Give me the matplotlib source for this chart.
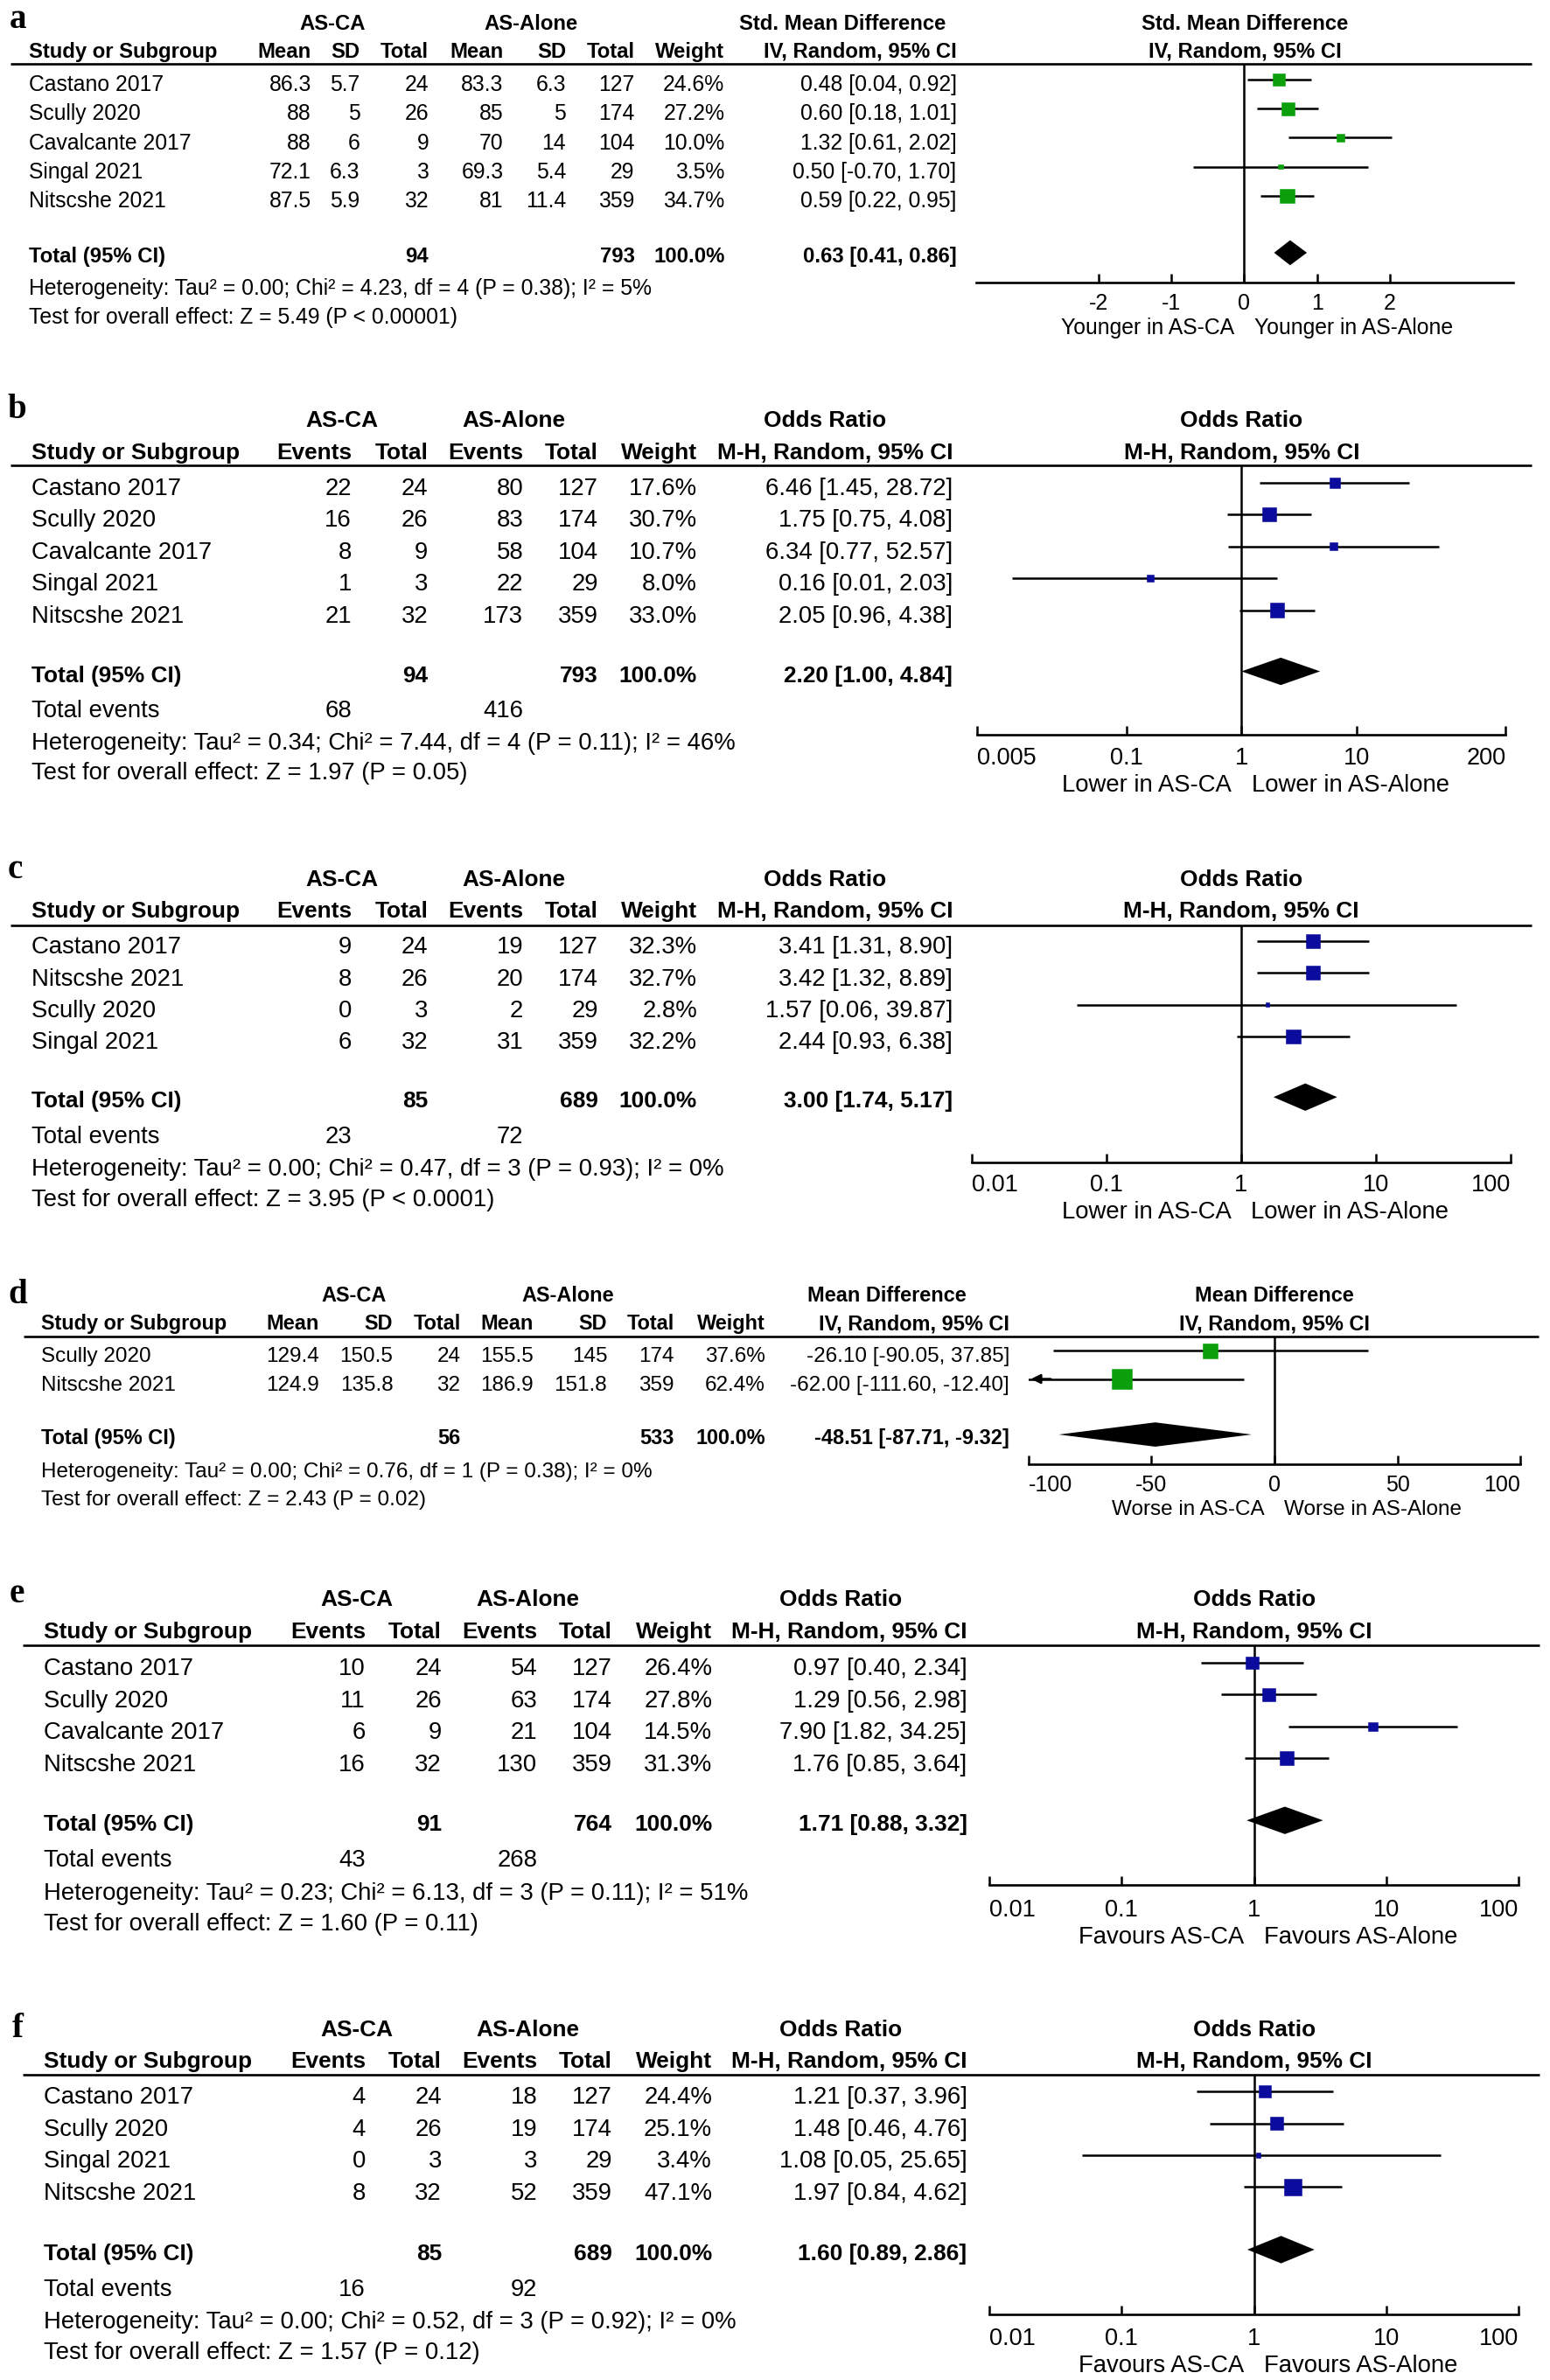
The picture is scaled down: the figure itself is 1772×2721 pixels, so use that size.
import matplotlib
matplotlib.use("Agg")
import matplotlib.pyplot as plt
from matplotlib.ticker import FixedLocator, NullFormatter

plt.rcParams['font.family'] = ['Liberation Sans', 'DejaVu Sans']

# ------------------------------------------------------------------ data
# (a) Std. Mean Difference
a_studies = ["Castano 2017", "Scully 2020", "Cavalcante 2017", "Singal 2021", "Nitscshe 2021"]
a_ca_mean = [86.3, 88, 88, 72.1, 87.5]
a_ca_sd = [5.7, 5, 6, 6.3, 5.9]
a_ca_n = [24, 26, 9, 3, 32]
a_al_mean = [83.3, 85, 70, 69.3, 81]
a_al_sd = [6.3, 5, 14, 5.4, 11.4]
a_al_n = [127, 174, 104, 29, 359]
a_weight = [24.6, 27.2, 10.0, 3.5, 34.7]
a_est = [0.48, 0.60, 1.32, 0.50, 0.59]
a_lo = [0.04, 0.18, 0.61, -0.70, 0.22]
a_hi = [0.92, 1.01, 2.02, 1.70, 0.95]
a_total = [0.63, 0.41, 0.86]
a_total_n = [94, 793]
a_het = "Heterogeneity: Tau² = 0.00; Chi² = 4.23, df = 4 (P = 0.38); I² = 5%"
a_test = "Test for overall effect: Z = 5.49 (P < 0.00001)"
a_ticks = [-2, -1, 0, 1, 2]
a_ticklabels = ["-2", "-1", "0", "1", "2"]
a_xlim = [-3.67, 3.69]
a_favours = ["Younger in AS-CA", "Younger in AS-Alone"]

# (b) Odds Ratio
b_studies = ["Castano 2017", "Scully 2020", "Cavalcante 2017", "Singal 2021", "Nitscshe 2021"]
b_ca_ev = [22, 16, 8, 1, 21]
b_ca_n = [24, 26, 9, 3, 32]
b_al_ev = [80, 83, 58, 22, 173]
b_al_n = [127, 174, 104, 29, 359]
b_weight = [17.6, 30.7, 10.7, 8.0, 33.0]
b_est = [6.46, 1.75, 6.34, 0.16, 2.05]
b_lo = [1.45, 0.75, 0.77, 0.01, 0.96]
b_hi = [28.72, 4.08, 52.57, 2.03, 4.38]
b_total = [2.20, 1.00, 4.84]
b_total_n = [94, 793]
b_total_ev = [68, 416]
b_het = "Heterogeneity: Tau² = 0.34; Chi² = 7.44, df = 4 (P = 0.11); I² = 46%"
b_test = "Test for overall effect: Z = 1.97 (P = 0.05)"
b_ticks = [0.005, 0.1, 1, 10, 200]
b_ticklabels = ["0.005", "0.1", "1", "10", "200"]
b_xlim = [0.005, 200]
b_favours = ["Lower in AS-CA", "Lower in AS-Alone"]

# (c) Odds Ratio
c_studies = ["Castano 2017", "Nitscshe 2021", "Scully 2020", "Singal 2021"]
c_ca_ev = [9, 8, 0, 6]
c_ca_n = [24, 26, 3, 32]
c_al_ev = [19, 20, 2, 31]
c_al_n = [127, 174, 29, 359]
c_weight = [32.3, 32.7, 2.8, 32.2]
c_est = [3.41, 3.42, 1.57, 2.44]
c_lo = [1.31, 1.32, 0.06, 0.93]
c_hi = [8.90, 8.89, 39.87, 6.38]
c_total = [3.00, 1.74, 5.17]
c_total_n = [85, 689]
c_total_ev = [23, 72]
c_het = "Heterogeneity: Tau² = 0.00; Chi² = 0.47, df = 3 (P = 0.93); I² = 0%"
c_test = "Test for overall effect: Z = 3.95 (P < 0.0001)"
c_ticks = [0.01, 0.1, 1, 10, 100]
c_ticklabels = ["0.01", "0.1", "1", "10", "100"]
c_xlim = [0.01, 100]
c_favours = ["Lower in AS-CA", "Lower in AS-Alone"]

# (d) Mean Difference
d_studies = ["Scully 2020", "Nitscshe 2021"]
d_ca_mean = [129.4, 124.9]
d_ca_sd = [150.5, 135.8]
d_ca_n = [24, 32]
d_al_mean = [155.5, 186.9]
d_al_sd = [145, 151.8]
d_al_n = [174, 359]
d_weight = [37.6, 62.4]
d_est = [-26.10, -62.00]
d_lo = [-90.05, -111.60]
d_hi = [37.85, -12.40]
d_total = [-48.51, -87.71, -9.32]
d_total_n = [56, 533]
d_het = "Heterogeneity: Tau² = 0.00; Chi² = 0.76, df = 1 (P = 0.38); I² = 0%"
d_test = "Test for overall effect: Z = 2.43 (P = 0.02)"
d_ticks = [-100, -50, 0, 50, 100]
d_ticklabels = ["-100", "-50", "0", "50", "100"]
d_xlim = [-100, 100]
d_favours = ["Worse in AS-CA", "Worse in AS-Alone"]

# (e) Odds Ratio
e_studies = ["Castano 2017", "Scully 2020", "Cavalcante 2017", "Nitscshe 2021"]
e_ca_ev = [10, 11, 6, 16]
e_ca_n = [24, 26, 9, 32]
e_al_ev = [54, 63, 21, 130]
e_al_n = [127, 174, 104, 359]
e_weight = [26.4, 27.8, 14.5, 31.3]
e_est = [0.97, 1.29, 7.90, 1.76]
e_lo = [0.40, 0.56, 1.82, 0.85]
e_hi = [2.34, 2.98, 34.25, 3.64]
e_total = [1.71, 0.88, 3.32]
e_total_n = [91, 764]
e_total_ev = [43, 268]
e_het = "Heterogeneity: Tau² = 0.23; Chi² = 6.13, df = 3 (P = 0.11); I² = 51%"
e_test = "Test for overall effect: Z = 1.60 (P = 0.11)"
e_ticks = [0.01, 0.1, 1, 10, 100]
e_ticklabels = ["0.01", "0.1", "1", "10", "100"]
e_xlim = [0.01, 100]
e_favours = ["Favours AS-CA", "Favours AS-Alone"]

# (f) Odds Ratio
f_studies = ["Castano 2017", "Scully 2020", "Singal 2021", "Nitscshe 2021"]
f_ca_ev = [4, 4, 0, 8]
f_ca_n = [24, 26, 3, 32]
f_al_ev = [18, 19, 3, 52]
f_al_n = [127, 174, 29, 359]
f_weight = [24.4, 25.1, 3.4, 47.1]
f_est = [1.21, 1.48, 1.08, 1.97]
f_lo = [0.37, 0.46, 0.05, 0.84]
f_hi = [3.96, 4.76, 25.65, 4.62]
f_total = [1.60, 0.89, 2.86]
f_total_n = [85, 689]
f_total_ev = [16, 92]
f_het = "Heterogeneity: Tau² = 0.00; Chi² = 0.52, df = 3 (P = 0.92); I² = 0%"
f_test = "Test for overall effect: Z = 1.57 (P = 0.12)"
f_ticks = [0.01, 0.1, 1, 10, 100]
f_ticklabels = ["0.01", "0.1", "1", "10", "100"]
f_xlim = [0.01, 100]
f_favours = ["Favours AS-CA", "Favours AS-Alone"]

cont_headers = ["Mean", "SD", "Total", "Mean", "SD", "Total", "Weight"]
dich_headers = ["Events", "Total", "Events", "Total", "Weight"]

# ------------------------------------------------------------------ figure
FIG_W, FIG_H = 1772, 2721
DW, DH = 1016.0, 1568.0
PX_X = FIG_W / DW
PX_Y = FIG_H / DH

fig = plt.figure(figsize=(FIG_W / 100, FIG_H / 100), dpi=100)
bg = fig.add_axes([0, 0, 1, 1])
bg.set_xlim(0, DW)
bg.set_ylim(DH, 0)
bg.axis('off')

GREEN = '#0ba00b'
BLUE = '#0b0b9e'


def cap(size):
    return 0.716 * size / 0.72 / PX_Y


def txt(x, y, s, size, bold=False, ha='left'):
    bg.text(x, y + cap(size) / 2, s, ha=ha, va='baseline', fontsize=size,
            fontweight='bold' if bold else 'normal', color='k')


def fmt(v):
    return '{:g}'.format(v)


def ci(e, l, h):
    return "%.2f [%.2f, %.2f]" % (e, l, h)


def draw_panel(L, P):
    fs, fb = L['fs'], L['fb']
    bg.text(L['lab_x'], L['lab_y'], L['letter'], family=['Liberation Serif'],
            fontweight='bold', fontsize=28, ha='left', va='baseline')
    g = L['g']
    txt(g[0], L['h1'], 'AS-CA', fb, True, 'center')
    txt(g[1], L['h1'], 'AS-Alone', fb, True, 'center')
    txt(g[2], L['h1'], P['measure'], fb, True, 'center')
    txt(L['name_x'], L['h2'], 'Study or Subgroup', fb, True)
    for x, h in zip(L['cols'], P['headers'] + [P['method']]):
        txt(x, L['h2'], h, fb, True, 'right')
    lx0, lx1, ly = L['line']
    bg.plot([lx0, lx1], [ly, ly], color='k', lw=1.9, solid_capstyle='butt')

    n = len(P['studies'])
    rows = [L['row0'] + i * L['step'] for i in range(n)]
    for i in range(n):
        y = rows[i]
        txt(L['name_x'], y, P['studies'][i], fs)
        cells = [c[i] for c in P['cells']] + ["%.1f%%" % P['weight'][i],
                                             ci(P['est'][i], P['lo'][i], P['hi'][i])]
        for x, c in zip(L['cols'], cells):
            txt(x, y, c, fs, ha='right')

    ty = L['total_y']
    txt(L['name_x'], ty, 'Total (95% CI)', fb, True)
    ti = P['total_idx']
    txt(L['cols'][ti[0]], ty, str(P['total_n'][0]), fb, True, 'right')
    txt(L['cols'][ti[1]], ty, str(P['total_n'][1]), fb, True, 'right')
    txt(L['cols'][-2], ty, '100.0%', fb, True, 'right')
    txt(L['cols'][-1], ty, ci(*P['total']), fb, True, 'right')
    if P.get('total_ev') is not None:
        ey = L['events_y']
        txt(L['name_x'], ey, 'Total events', fs)
        txt(L['cols'][0], ey, str(P['total_ev'][0]), fs, ha='right')
        txt(L['cols'][2], ey, str(P['total_ev'][1]), fs, ha='right')
    txt(L['name_x'], L['het_y'], P['het'], fs)
    txt(L['name_x'], L['test_y'], P['test'], fs)

    # ---------------- forest plot
    x0, x1 = L['fx']
    yt, yb = L['fy']
    ax = fig.add_axes([x0 / DW, 1 - yb / DH, (x1 - x0) / DW, (yb - yt) / DH])
    if P['log']:
        ax.set_xscale('log')
    ax.set_xlim(P['xlim'])
    ax.set_ylim(yb, yt)
    ax.patch.set_visible(False)
    for s in ['top', 'left', 'right']:
        ax.spines[s].set_visible(False)
    ax.spines['bottom'].set_linewidth(1.9)
    ax.set_yticks([])
    ax.set_xticks(P['ticks'])
    ax.set_xticklabels(P['ticklabels'])
    ax.xaxis.set_minor_locator(FixedLocator(P['end_ticks']))
    ax.xaxis.set_minor_formatter(NullFormatter())
    tfs = L['tickfs']
    pad = ((L['tick_y'] - yb) * PX_Y - 0.716 * tfs / 0.72 / 2) * 0.72
    ax.tick_params(axis='x', which='major', direction='in', length=7, width=1.8,
                   pad=pad, labelsize=tfs)
    ax.tick_params(axis='x', which='minor', direction='inout', length=12, width=1.8)
    if P['end_ticks']:
        labs = ax.get_xticklabels()
        labs[0].set_horizontalalignment('left')
        labs[-1].set_horizontalalignment('right')

    null = P['null']
    ax.axvline(null, color='k', lw=1.8, zorder=1)
    sq_y = [r - 2.5 for r in rows]
    ax.hlines(sq_y, P['lo'], P['hi'], color='k', lw=1.8, zorder=2)
    for i in range(n):
        if P['lo'][i] < P['xlim'][0]:
            span = P['xlim'][1] - P['xlim'][0]
            ax.annotate('', xy=(P['xlim'][0], sq_y[i]),
                        xytext=(P['xlim'][0] + 0.05 * span, sq_y[i]),
                        arrowprops=dict(arrowstyle='-|>', color='k', lw=1.8,
                                        mutation_scale=16),
                        annotation_clip=False)
    sizes = [(2.85 * w ** 0.5 * 0.72) ** 2 for w in P['weight']]
    ax.scatter(P['est'], sq_y, s=sizes, marker='s', color=P['color'],
               edgecolors=P['color'], linewidths=0.4, zorder=3)
    e, lo, hi = P['total']
    dy = ty - 1.5
    h = 0.43 * L['step']
    ax.fill([lo, e, hi, e], [dy, dy - h, dy, dy + h], color='k', lw=0, zorder=3)

    # headers over plot
    cx = (x0 + x1) / 2
    txt(cx, L['h1'], P['measure'], fb, True, 'center')
    txt(cx, L['h2'], P['method'], fb, True, 'center')
    # favours labels
    nx = bg.transData.inverted().transform(ax.transData.transform((null, yb)))[0]
    txt(nx - 6.5, L['xlab_y'], P['favours'][0], fs, ha='right')
    txt(nx + 6.5, L['xlab_y'], P['favours'][1], fs, ha='left')


# ------------------------------------------------------------------ layouts
LA = dict(letter='a', lab_x=6, lab_y=18.3, fs=17.8, fb=17.2, h1=14.4, h2=33, name_x=19.2,
          cols=[204, 236, 281, 330, 371, 416, 475, 627], g=[218, 348, 552],
          line=(7, 1004, 41.8), row0=54.8, step=19.2, total_y=168, events_y=None,
          het_y=189, test_y=208, fx=(640, 992), fy=(41.8, 186), tick_y=198,
          xlab_y=215, tickfs=18)
LB = dict(letter='b', lab_x=5, lab_y=275.7, fs=19.8, fb=18.9, h1=276, h2=297, name_x=20.5,
          cols=[230.5, 280.5, 343, 392, 457, 624.5], g=[224, 337, 541],
          line=(7, 1004, 306.6), row0=320.5, step=21, total_y=443.8, events_y=466.9,
          het_y=488, test_y=508, fx=(640.5, 987), fy=(306.6, 484), tick_y=497.5,
          xlab_y=516, tickfs=19.5)
LC = dict(letter='c', lab_x=5, lab_y=578.3, fs=19.8, fb=18.9, h1=578.3, h2=599, name_x=20.5,
          cols=[230.5, 280.5, 343, 392, 457, 624.5], g=[224, 337, 541],
          line=(7, 1004, 609.4), row0=622.5, step=21, total_y=724.3, events_y=747.4,
          het_y=768.9, test_y=788.7, fx=(637, 990), fy=(609.4, 765.6), tick_y=779,
          xlab_y=797.3, tickfs=19.5)
LD = dict(letter='d', lab_x=5.3, lab_y=858.8, fs=17.5, fb=16.9, h1=852.6, h2=871.3, name_x=27.2,
          cols=[209.3, 257.6, 301.9, 349.7, 398, 441.9, 501.5, 661.7], g=[231.8, 372.5, 581.4],
          line=(15.4, 1008.5, 880.3), row0=892.4, step=18.6, total_y=946.6, events_y=None,
          het_y=968.3, test_y=986.6, fx=(674.2, 996.7), fy=(880.3, 964.4), tick_y=977,
          xlab_y=993.3, tickfs=18)
LE = dict(letter='e', lab_x=6, lab_y=1055.7, fs=19.8, fb=18.9, h1=1052.8, h2=1074, name_x=28.7,
          cols=[239.6, 289.5, 352.2, 401.3, 466.8, 633.9], g=[233.8, 345.8, 551.2],
          line=(15, 1009, 1084), row0=1098, step=21, total_y=1200.8, events_y=1223.8,
          het_y=1245.9, test_y=1266, fx=(648.4, 995.6), fy=(1084, 1242), tick_y=1256.5,
          xlab_y=1274.7, tickfs=19.5)
LF = dict(letter='f', lab_x=8, lab_y=1342, fs=19.8, fb=18.9, h1=1336.2, h2=1356.8, name_x=28.7,
          cols=[239.6, 289.5, 352.2, 401.3, 466.8, 633.9], g=[233.8, 345.8, 551.2],
          line=(15, 1009, 1366.8), row0=1380.4, step=21, total_y=1483.6, events_y=1507.2,
          het_y=1528.3, test_y=1548.4, fx=(648.4, 995.6), fy=(1366.8, 1525), tick_y=1538.9,
          xlab_y=1557.1, tickfs=19.5)


def cont(studies, cm, csd, cn, am, asd, an, w, est, lo, hi, tot, tn, het, test,
         ticks, tl, xlim, fav, measure, color, end_ticks):
    return dict(studies=studies,
                cells=[[fmt(v) for v in cm], [fmt(v) for v in csd], [str(v) for v in cn],
                       [fmt(v) for v in am], [fmt(v) for v in asd], [str(v) for v in an]],
                headers=list(cont_headers), method="IV, Random, 95% CI", measure=measure,
                weight=w, est=est, lo=lo, hi=hi, total=tot, total_n=tn, total_idx=(2, 5),
                total_ev=None, het=het, test=test, ticks=ticks, ticklabels=tl, xlim=xlim,
                favours=fav, log=False, null=0, color=color, end_ticks=end_ticks)


def dich(studies, ce, cn, ae, an, w, est, lo, hi, tot, tn, tev, het, test,
         ticks, tl, xlim, fav):
    return dict(studies=studies,
                cells=[[str(v) for v in ce], [str(v) for v in cn],
                       [str(v) for v in ae], [str(v) for v in an]],
                headers=list(dich_headers), method="M-H, Random, 95% CI", measure="Odds Ratio",
                weight=w, est=est, lo=lo, hi=hi, total=tot, total_n=tn, total_idx=(1, 3),
                total_ev=tev, het=het, test=test, ticks=ticks, ticklabels=tl, xlim=xlim,
                favours=fav, log=True, null=1, color=BLUE, end_ticks=list(xlim))


PA = cont(a_studies, a_ca_mean, a_ca_sd, a_ca_n, a_al_mean, a_al_sd, a_al_n, a_weight,
          a_est, a_lo, a_hi, a_total, a_total_n, a_het, a_test, a_ticks, a_ticklabels,
          a_xlim, a_favours, "Std. Mean Difference", GREEN, [])
PB = dich(b_studies, b_ca_ev, b_ca_n, b_al_ev, b_al_n, b_weight, b_est, b_lo, b_hi,
          b_total, b_total_n, b_total_ev, b_het, b_test, b_ticks, b_ticklabels, b_xlim, b_favours)
PC = dich(c_studies, c_ca_ev, c_ca_n, c_al_ev, c_al_n, c_weight, c_est, c_lo, c_hi,
          c_total, c_total_n, c_total_ev, c_het, c_test, c_ticks, c_ticklabels, c_xlim, c_favours)
PD = cont(d_studies, d_ca_mean, d_ca_sd, d_ca_n, d_al_mean, d_al_sd, d_al_n, d_weight,
          d_est, d_lo, d_hi, d_total, d_total_n, d_het, d_test, d_ticks, d_ticklabels,
          d_xlim, d_favours, "Mean Difference", GREEN, list(d_xlim))
PE = dich(e_studies, e_ca_ev, e_ca_n, e_al_ev, e_al_n, e_weight, e_est, e_lo, e_hi,
          e_total, e_total_n, e_total_ev, e_het, e_test, e_ticks, e_ticklabels, e_xlim, e_favours)
PF = dich(f_studies, f_ca_ev, f_ca_n, f_al_ev, f_al_n, f_weight, f_est, f_lo, f_hi,
          f_total, f_total_n, f_total_ev, f_het, f_test, f_ticks, f_ticklabels, f_xlim, f_favours)

for L, P in [(LA, PA), (LB, PB), (LC, PC), (LD, PD), (LE, PE), (LF, PF)]:
    draw_panel(L, P)

fig.savefig("out.png", dpi=100, facecolor='white')
